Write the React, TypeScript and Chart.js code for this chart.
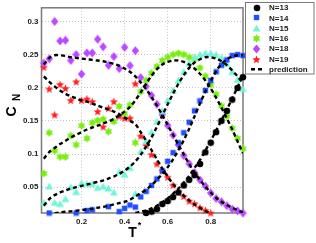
import React, { useEffect, useRef } from "react";
import { Chart, registerables } from "chart.js";
Chart.register(...registerables);

const _ = null;
const T = [0.025, 0.05, 0.075, 0.1, 0.125, 0.15, 0.175, 0.2, 0.225, 0.25, 0.275, 0.3, 0.325, 0.35, 0.375, 0.4, 0.425, 0.45, 0.475, 0.5, 0.525, 0.55, 0.575, 0.6, 0.625, 0.65, 0.675, 0.7, 0.725, 0.75, 0.775, 0.8, 0.825, 0.85, 0.875, 0.9, 0.925, 0.95];

const N13 = [_, _, _, _, _, _, _, _, _, _, _, _, _, _, _, _, _, _, _, 0.011, 0.013, 0.017, 0.0245, 0.029, 0.035, 0.042, 0.0525, 0.061, 0.068, 0.085, 0.1025, 0.117, 0.133, 0.15, 0.165, 0.182, 0.1996, 0.216];
const N14 = [_, 0.011, _, _, _, _, 0.011, _, 0.0147, 0.0157, _, _, 0.0206, _, 0.013, 0.018, 0.023, 0.02, 0.0353, 0.0437, 0.0525, 0.0624, 0.0746, 0.089, 0.102, 0.117, 0.132, 0.148, 0.165, 0.18, 0.196, 0.211, 0.224, 0.234, 0.242, 0.2485, 0.25, 0.2485];
const N15 = [0.0265, 0.051, 0.0265, 0.0245, 0.032, 0.05, 0.0426, 0.056, 0.055, 0.055, 0.049, 0.051, 0.048, 0.042, 0.073, 0.069, 0.079, 0.04, 0.104, 0.119, 0.133, 0.149, 0.165, 0.181, 0.196, 0.211, 0.224, 0.237, 0.246, 0.25, 0.252, 0.252, 0.25, 0.245, 0.236, 0.224, 0.212, 0.198];
const N16 = [0.0706, 0.132, 0.105, 0.0956, 0.0956, 0.1275, 0.1138, 0.1426, 0.1235, 0.147, 0.1506, 0.1525, 0.1338, 0.149, 0.172, 0.161, 0.174, 0.117, 0.194, 0.211, 0.222, 0.232, 0.241, 0.246, 0.25, 0.252, 0.25, 0.246, 0.243, 0.23, 0.2176, 0.2044, 0.19, 0.1726, 0.157, 0.139, 0.1235, 0.108];
const N18 = [0.237, 0.2437, 0.3, 0.2706, 0.2716, 0.2412, 0.25, 0.2206, 0.2525, 0.2525, 0.2731, 0.2618, 0.2338, 0.2471, 0.229, 0.2609, 0.2334, 0.2559, 0.2153, 0.2021, 0.1882, 0.175, 0.1594, 0.1432, 0.1285, 0.1138, 0.0976, 0.0853, 0.072, 0.0609, 0.0515, 0.0412, 0.0329, 0.0279, 0.0221, 0.0168, 0.0143, 0.0109];
const N19 = [0.231, 0.198, 0.159, 0.205, 0.199, 0.181, 0.209, 0.181, 0.183, 0.179, 0.164, 0.141, 0.169, 0.179, 0.157, 0.154, 0.154, 0.206, 0.127, 0.113, 0.099, 0.085, 0.0745, 0.065, 0.053, 0.043, 0.036, 0.029, 0.025, 0.019, 0.015, 0.011, _, _, _, _, _, _];

const P13 = [_, _, _, _, _, _, _, _, _, _, _, _, _, _, _, _, _, 0.011, 0.013, 0.015, 0.018, 0.022, 0.027, 0.033, 0.04, 0.048, 0.057, 0.067, 0.079, 0.091, 0.105, 0.12, 0.135, 0.151, 0.167, 0.184, 0.201, 0.218];
const P14 = [_, _, 0.0105, 0.012, 0.013, 0.0135, 0.0145, 0.0155, 0.0165, 0.0175, 0.019, 0.02, 0.022, 0.024, 0.026, 0.028, 0.031, 0.036, 0.041, 0.046, 0.053, 0.061, 0.07, 0.08, 0.092, 0.106, 0.121, 0.138, 0.157, 0.176, 0.194, 0.21, 0.225, 0.236, 0.243, 0.247, 0.249, 0.249];
const P15 = [0.022, 0.032, 0.038, 0.042, 0.045, 0.048, 0.05, 0.052, 0.054, 0.056, 0.058, 0.06, 0.063, 0.066, 0.07, 0.075, 0.081, 0.089, 0.099, 0.111, 0.125, 0.141, 0.158, 0.175, 0.191, 0.206, 0.219, 0.23, 0.238, 0.243, 0.246, 0.246, 0.244, 0.24, 0.234, 0.226, 0.217, 0.207];
const P16 = [0.093, 0.103, 0.109, 0.115, 0.12, 0.125, 0.129, 0.133, 0.137, 0.14, 0.143, 0.146, 0.149, 0.153, 0.158, 0.164, 0.171, 0.181, 0.193, 0.206, 0.218, 0.228, 0.235, 0.239, 0.241, 0.241, 0.239, 0.235, 0.229, 0.221, 0.211, 0.199, 0.185, 0.17, 0.154, 0.137, 0.119, 0.101];
const P18 = [0.235, 0.245, 0.249, 0.249, 0.248, 0.246, 0.245, 0.244, 0.243, 0.242, 0.241, 0.24, 0.238, 0.236, 0.233, 0.229, 0.224, 0.217, 0.208, 0.198, 0.186, 0.173, 0.159, 0.144, 0.129, 0.114, 0.099, 0.085, 0.072, 0.061, 0.051, 0.042, 0.034, 0.028, 0.023, 0.019, 0.015, 0.012];
const P19 = [0.217, 0.209, 0.202, 0.196, 0.191, 0.187, 0.184, 0.181, 0.179, 0.176, 0.173, 0.17, 0.167, 0.164, 0.16, 0.155, 0.15, 0.145, 0.133, 0.12, 0.106, 0.092, 0.078, 0.066, 0.055, 0.045, 0.037, 0.03, 0.024, 0.019, 0.014, 0.011, _, _, _, _, _, _];

const SERIES_LABELS = ["N=13", "N=14", "N=15", "N=16", "N=18", "N=19"];
const PRED_LABEL = "prediction";
const X_TICKS = [0.2, 0.4, 0.6, 0.8];
const Y_TICKS = [0.05, 0.1, 0.15, 0.2, 0.25, 0.3];
const X_TITLE = "T";
const X_TITLE_SUP = "*";
const Y_TITLE = "C";
const Y_TITLE_SUB = "N";

const FONT = "'Liberation Sans', Arial, sans-serif";
const COLORS = ["#000000", "#1f4fff", "#6ff6d6", "#7aee14", "#bc48ff", "#ff2020"];

function makeCanvas(w: number, h: number, draw: (c: CanvasRenderingContext2D) => void) {
  const cv = document.createElement("canvas");
  cv.width = w;
  cv.height = h;
  const c = cv.getContext("2d")!;
  draw(c);
  return cv;
}

function starPath(c: CanvasRenderingContext2D, cx: number, cy: number, n: number, ro: number, ri: number) {
  c.beginPath();
  for (let k = 0; k < 2 * n; k++) {
    const r = k % 2 === 0 ? ro : ri;
    const a = -Math.PI / 2 + (k * Math.PI) / n;
    const px = cx + r * Math.cos(a);
    const py = cy + r * Math.sin(a);
    if (k === 0) c.moveTo(px, py);
    else c.lineTo(px, py);
  }
  c.closePath();
}

function makeMarkers() {
  const circle = makeCanvas(8, 8, (c) => {
    c.fillStyle = COLORS[0];
    c.beginPath();
    c.arc(4, 4, 3.3, 0, Math.PI * 2);
    c.fill();
  });
  const square = makeCanvas(7, 7, (c) => {
    c.fillStyle = COLORS[1];
    c.fillRect(0.8, 0.8, 5.4, 5.4);
  });
  const tri = makeCanvas(9, 9, (c) => {
    c.fillStyle = COLORS[2];
    c.beginPath();
    c.moveTo(4.5, 0.8);
    c.lineTo(8.4, 7.6);
    c.lineTo(0.6, 7.6);
    c.closePath();
    c.fill();
  });
  const hexa = makeCanvas(9, 9, (c) => {
    c.fillStyle = COLORS[3];
    starPath(c, 4.5, 4.5, 6, 4.2, 2.5);
    c.fill();
  });
  const diamond = makeCanvas(9, 10, (c) => {
    c.fillStyle = COLORS[4];
    c.beginPath();
    c.moveTo(4.5, 0.5);
    c.lineTo(8.2, 5);
    c.lineTo(4.5, 9.5);
    c.lineTo(0.8, 5);
    c.closePath();
    c.fill();
  });
  const penta = makeCanvas(9, 9, (c) => {
    c.fillStyle = COLORS[5];
    starPath(c, 4.5, 4.8, 5, 4.3, 1.9);
    c.fill();
  });
  return [circle, square, tri, hexa, diamond, penta];
}

const pts = (arr: (number | null)[]) => T.map((t, i) => ({ x: t, y: arr[i] }));

export default function App() {
  const ref = useRef<HTMLCanvasElement | null>(null);
  useEffect(() => {
    if (!ref.current) return;
    const markers = makeMarkers();
    const seriesData = [N13, N14, N15, N16, N18, N19];
    const preds = [P13, P14, P15, P16, P18, P19];

    const datasets: any[] = [];
    seriesData.forEach((arr, k) => {
      datasets.push({
        label: SERIES_LABELS[k],
        data: pts(arr),
        showLine: false,
        pointStyle: markers[k],
        pointRadius: 4,
        backgroundColor: COLORS[k],
        borderColor: COLORS[k],
        clip: 6,
        order: 2,
      });
    });
    preds.forEach((arr, k) => {
      datasets.push({
        label: PRED_LABEL + k,
        data: pts(arr),
        borderColor: "#000",
        borderWidth: 2.4,
        borderDash: [4, 3],
        pointRadius: 0,
        fill: false,
        tension: 0.3,
        order: 1,
      });
    });

    const decor = {
      id: "decor",
      beforeDatasetsDraw(chart: any) {
        const { ctx, chartArea: a } = chart;
        ctx.save();
        ctx.strokeStyle = "#7a7a7a";
        ctx.lineWidth = 1.5;
        ctx.strokeRect(a.left, a.top, a.right - a.left, a.bottom - a.top);
        ctx.restore();
      },
      afterDraw(chart: any) {
        const { ctx } = chart;
        ctx.save();
        // axis titles
        ctx.fillStyle = "#000";
        ctx.textAlign = "center";
        ctx.textBaseline = "middle";
        ctx.font = `bold 14px ${FONT}`;
        ctx.fillText(X_TITLE, 132.5, 233.5);
        ctx.font = `bold 9px ${FONT}`;
        ctx.fillText(X_TITLE_SUP, 139.5, 226);
        ctx.save();
        ctx.translate(12, 111.5);
        ctx.rotate(-Math.PI / 2);
        ctx.font = `bold 14px ${FONT}`;
        ctx.fillText(Y_TITLE, 0, 0);
        ctx.font = `bold 10px ${FONT}`;
        ctx.fillText(Y_TITLE_SUB, 14, 5);
        ctx.restore();
        // legend
        const bx = 245.5, by = 2.5, bw = 68.5, bh = 71.5;
        ctx.fillStyle = "#fff";
        ctx.fillRect(bx, by, bw, bh);
        ctx.strokeStyle = "#7a7a7a";
        ctx.lineWidth = 1;
        ctx.strokeRect(bx, by, bw, bh);
        ctx.font = `bold 8px ${FONT}`;
        ctx.textAlign = "left";
        ctx.textBaseline = "middle";
        const labels = [...SERIES_LABELS, PRED_LABEL];
        labels.forEach((lab, k) => {
          const y = 7.5 + k * 10.3;
          if (k < markers.length) {
            const m = markers[k];
            ctx.drawImage(m, Math.round(256.5 - m.width / 2), Math.round(y - m.height / 2));
          } else {
            ctx.save();
            ctx.strokeStyle = "#000";
            ctx.lineWidth = 2.4;
            ctx.setLineDash([4, 3]);
            ctx.beginPath();
            ctx.moveTo(251, y);
            ctx.lineTo(264, y);
            ctx.stroke();
            ctx.restore();
          }
          ctx.fillStyle = "#1a1a1a";
          ctx.fillText(lab, 269, y + 0.5);
        });
        ctx.restore();
      },
    };

    const tickFont = { family: FONT, size: 8, weight: "bold" as const };
    const chart = new Chart(ref.current, {
      type: "line",
      data: { datasets },
      options: {
        responsive: false,
        animation: false,
        devicePixelRatio: 1,
        events: [],
        layout: { padding: { left: 0, top: 3, right: 73, bottom: 0 } },
        plugins: { legend: { display: false }, tooltip: { enabled: false }, title: { display: false } },
        scales: {
          x: {
            type: "linear",
            min: 0.014,
            max: 0.95,
            afterBuildTicks: (s: any) => {
              s.ticks = X_TICKS.map((v) => ({ value: v }));
            },
            afterFit: (s: any) => {
              s.height = 30;
            },
            ticks: {
              callback: (v: any) => Number(v).toFixed(1),
              font: tickFont,
              color: "#222",
              padding: 4,
              maxRotation: 0,
              autoSkip: false,
            },
            grid: { color: "#c4c4c4", lineWidth: 1, drawTicks: false },
            border: { display: false, dash: [1, 2] },
          },
          y: {
            type: "linear",
            min: 0.011,
            max: 0.3206,
            afterBuildTicks: (s: any) => {
              s.ticks = Y_TICKS.map((v) => ({ value: v }));
            },
            afterFit: (s: any) => {
              s.width = 41.5;
            },
            ticks: {
              callback: (v: any) => String(+Number(v).toFixed(2)),
              font: tickFont,
              color: "#222",
              padding: 3,
              autoSkip: false,
            },
            grid: { color: "#c4c4c4", lineWidth: 1, drawTicks: false },
            border: { display: false, dash: [1, 2] },
          },
        },
      },
      plugins: [decor],
    } as any);
    return () => chart.destroy();
  }, []);

  return (
    <div style={{ position: "fixed", left: 0, top: 0, width: 316, height: 243, background: "#fff" }}>
      <canvas ref={ref} width={316} height={243} style={{ width: 316, height: 243, display: "block" }} />
    </div>
  );
}
